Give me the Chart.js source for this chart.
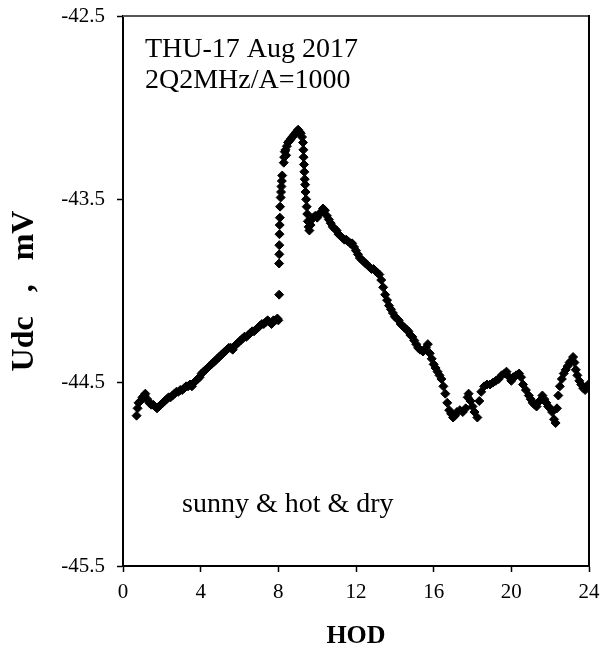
<!DOCTYPE html>
<html>
<head>
<meta charset="utf-8">
<script src="https://cdn.jsdelivr.net/npm/chart.js@4/dist/chart.umd.min.js"></script>
<style>
  body { margin: 0; background: #fff; }
  #wrap { width: 606px; height: 652px; }
</style>
</head>
<body>
<div id="wrap"><canvas id="myChart" width="606" height="652"></canvas></div>
<script>
// hour of day
const hod = [
    0.70, 0.75, 0.80, 0.90, 1.00, 1.10, 1.15, 1.25, 1.35, 1.45, 1.55, 1.65, 1.75, 1.85, 1.95,
    2.05, 2.15, 2.25, 2.35, 2.45, 2.55, 2.65, 2.75, 2.85, 2.95, 3.05, 3.15, 3.25, 3.35, 3.45,
    3.55, 3.65, 3.75, 3.85, 3.95, 4.05, 4.15, 4.25, 4.35, 4.45, 4.55, 4.65, 4.75, 4.85, 4.95,
    5.05, 5.15, 5.25, 5.35, 5.45, 5.55, 5.65, 5.75, 5.85, 5.95, 6.05, 6.15, 6.25, 6.35, 6.45,
    6.55, 6.65, 6.75, 6.85, 6.95, 7.05, 7.15, 7.25, 7.35, 7.45, 7.55, 7.65, 7.75, 7.85, 7.95,
    8.00,
    8.04, 8.04, 8.05, 8.05, 8.06, 8.07, 8.08, 8.09, 8.12, 8.14, 8.16, 8.18, 8.20, 8.28, 8.30,
    8.33, 8.37, 8.40, 8.44, 8.50, 8.58, 8.65, 8.72, 8.80, 8.88, 8.95, 9.02, 9.08, 9.15, 9.22,
    9.27, 9.29, 9.30, 9.32, 9.34, 9.36, 9.38, 9.40, 9.43, 9.46, 9.49, 9.52, 9.56, 9.60, 9.66,
    9.72, 9.80, 9.90, 10.00, 10.10, 10.20, 10.30, 10.40, 10.50, 10.60, 10.70, 10.80, 10.90, 11.00, 11.10,
    11.20, 11.30, 11.40, 11.50, 11.60, 11.70, 11.80, 11.90, 12.00, 12.10, 12.20, 12.30, 12.40, 12.50, 12.60,
    12.70, 12.80, 12.90, 13.00, 13.10, 13.20, 13.30, 13.40, 13.50, 13.60, 13.70, 13.80, 13.90, 14.00, 14.10,
    14.20, 14.30, 14.40, 14.50, 14.60, 14.70, 14.80, 14.90, 15.00, 15.10, 15.20, 15.30, 15.45, 15.60, 15.70,
    15.80, 15.90, 16.00, 16.10, 16.20, 16.30, 16.40, 16.50, 16.60, 16.70, 16.80, 16.90, 17.00, 17.10, 17.20,
    17.35, 17.50, 17.65, 17.75, 17.80, 17.90, 18.00, 18.10, 18.25, 18.35, 18.45, 18.60, 18.75, 18.90, 19.05,
    19.20, 19.35, 19.50, 19.65, 19.75, 19.90, 20.00, 20.10, 20.25, 20.40, 20.50, 20.60, 20.75, 20.90, 21.00,
    21.10, 21.20, 21.30, 21.45, 21.60, 21.70, 21.80, 21.90, 22.00, 22.10, 22.20, 22.28, 22.35, 22.42, 22.50,
    22.60, 22.70, 22.80, 22.90, 23.00, 23.10, 23.18, 23.25, 23.32, 23.40, 23.50, 23.60, 23.70, 23.80, 23.90,
    23.97
];

// Udc, mV
const udc = [
    -44.68, -44.64, -44.61, -44.60, -44.58, -44.57, -44.56, -44.59, -44.61, -44.62, -44.62, -44.63, -44.64, -44.63, -44.62,
    -44.61, -44.60, -44.59, -44.58, -44.58, -44.57, -44.56, -44.55, -44.55, -44.54, -44.54, -44.53, -44.52, -44.52, -44.51,
    -44.52, -44.50, -44.49, -44.48, -44.47, -44.45, -44.44, -44.43, -44.42, -44.41, -44.40, -44.39, -44.38, -44.37, -44.36,
    -44.35, -44.34, -44.33, -44.32, -44.31, -44.31, -44.32, -44.30, -44.29, -44.28, -44.27, -44.26, -44.25, -44.25, -44.24,
    -44.23, -44.22, -44.22, -44.21, -44.20, -44.19, -44.18, -44.18, -44.17, -44.16, -44.17, -44.18, -44.16, -44.16, -44.15,
    -44.16,
    -44.02, -43.85, -43.80, -43.75, -43.69, -43.64, -43.60, -43.54, -43.49, -43.46, -43.43, -43.40, -43.37, -43.30, -43.27,
    -43.24, -43.23, -43.26, -43.21, -43.19, -43.18, -43.17, -43.16, -43.15, -43.14, -43.13, -43.12, -43.13, -43.14, -43.16,
    -43.19, -43.23, -43.27, -43.31, -43.35, -43.39, -43.42, -43.46, -43.50, -43.54, -43.58, -43.62, -43.65, -43.67, -43.64,
    -43.61, -43.60, -43.59, -43.60, -43.58, -43.57, -43.55, -43.56, -43.59, -43.61, -43.63, -43.65, -43.66, -43.67, -43.69,
    -43.70, -43.71, -43.72, -43.72, -43.73, -43.74, -43.74, -43.76, -43.78, -43.80, -43.82, -43.83, -43.84, -43.85, -43.86,
    -43.87, -43.88, -43.88, -43.89, -43.90, -43.91, -43.94, -43.98, -44.02, -44.05, -44.08, -44.10, -44.12, -44.14, -44.15,
    -44.16, -44.18, -44.19, -44.20, -44.21, -44.22, -44.24, -44.25, -44.27, -44.29, -44.31, -44.32, -44.33, -44.31, -44.29,
    -44.34, -44.37, -44.40, -44.42, -44.44, -44.46, -44.48, -44.52, -44.56, -44.61, -44.65, -44.67, -44.69, -44.68, -44.66,
    -44.65, -44.66, -44.64, -44.58, -44.56, -44.60, -44.63, -44.66, -44.69, -44.60, -44.55, -44.52, -44.51, -44.51, -44.50,
    -44.49, -44.48, -44.46, -44.45, -44.44, -44.47, -44.49, -44.47, -44.46, -44.45, -44.47, -44.51, -44.54, -44.57, -44.59,
    -44.61, -44.62, -44.63, -44.60, -44.57, -44.59, -44.61, -44.63, -44.64, -44.66, -44.70, -44.72, -44.64, -44.57, -44.52,
    -44.48, -44.45, -44.43, -44.41, -44.39, -44.38, -44.36, -44.39, -44.43, -44.46, -44.49, -44.51, -44.53, -44.54, -44.52,
    -44.51
];

const xTicks = [0, 4, 8, 12, 16, 20, 24];
const yTicks = [-45.5, -44.5, -43.5, -42.5];
const notes = ["THU-17 Aug 2017", "2Q2MHz/A=1000"];
const weatherNote = "sunny & hot & dry";

const serif = "'Liberation Serif', 'Times New Roman', serif";

// frame on top + right, and the text notes
const notesPlugin = {
    id: 'notes',
    afterDraw(chart) {
        const ctx = chart.ctx;
        const a = chart.chartArea;
        ctx.save();
        ctx.lineWidth = 2;
        ctx.strokeStyle = '#555';
        ctx.beginPath();
        ctx.moveTo(a.left, a.top);
        ctx.lineTo(a.right, a.top);
        ctx.stroke();
        ctx.strokeStyle = '#000';
        ctx.beginPath();
        ctx.moveTo(a.right, a.top - 1);
        ctx.lineTo(a.right, a.bottom);
        ctx.stroke();

        ctx.fillStyle = '#000';
        ctx.font = "28px " + serif;
        ctx.textBaseline = 'alphabetic';
        ctx.fillText(notes[0], a.left + 22, a.top + 41);
        ctx.fillText(notes[1], a.left + 22, a.top + 72);
        ctx.fillText(weatherNote, a.left + 59, a.top + 496);
        ctx.restore();
    }
};

const points = hod.map((x, i) => ({ x: x, y: udc[i] }));

new Chart(document.getElementById('myChart'), {
    type: 'scatter',
    data: {
        datasets: [{
            data: points,
            pointStyle: 'rectRot',
            pointRadius: 4.5,
            pointBorderWidth: 1,
            backgroundColor: '#000',
            borderColor: '#000'
        }]
    },
    options: {
        responsive: false,
        animation: false,
        events: [],
        layout: { padding: { top: 16, right: 17, left: 0, bottom: 0 } },
        plugins: {
            legend: { display: false },
            tooltip: { enabled: false }
        },
        scales: {
            x: {
                type: 'linear',
                min: 0,
                max: 24,
                afterBuildTicks: (scale) => { scale.ticks = xTicks.map(v => ({ value: v })); },
                afterFit: (scale) => {
                    scale.height = 86;
                    scale.paddingLeft = 0;
                    scale.paddingRight = 0;
                },
                border: { display: true, color: '#000', width: 2 },
                grid: { drawOnChartArea: false, drawTicks: true, tickLength: 6, tickColor: '#000', tickWidth: 1.5 },
                ticks: {
                    color: '#000',
                    padding: 8,
                    maxRotation: 0,
                    font: { family: serif, size: 21 },
                    callback: (v) => v
                },
                title: {
                    display: true,
                    text: 'HOD',
                    color: '#000',
                    padding: { top: 3, bottom: 0 },
                    font: { family: serif, size: 26, weight: 'bold' }
                }
            },
            y: {
                type: 'linear',
                min: -45.5,
                max: -42.5,
                afterBuildTicks: (scale) => { scale.ticks = yTicks.map(v => ({ value: v })); },
                afterFit: (scale) => {
                    scale.width = 123;
                    scale.paddingTop = 0;
                    scale.paddingBottom = 0;
                },
                border: { display: true, color: '#000', width: 2 },
                grid: { drawOnChartArea: false, drawTicks: true, tickLength: 6, tickColor: '#000', tickWidth: 1.5 },
                ticks: {
                    color: '#000',
                    padding: 12,
                    font: { family: serif, size: 21 },
                    callback: (v) => v.toFixed(1)
                },
                title: {
                    display: true,
                    text: 'Udc   ,   mV',
                    color: '#000',
                    padding: { top: 6, bottom: 0 },
                    font: { family: serif, size: 32, weight: 'bold' }
                }
            }
        }
    },
    plugins: [notesPlugin]
});
</script>
</body>
</html>
